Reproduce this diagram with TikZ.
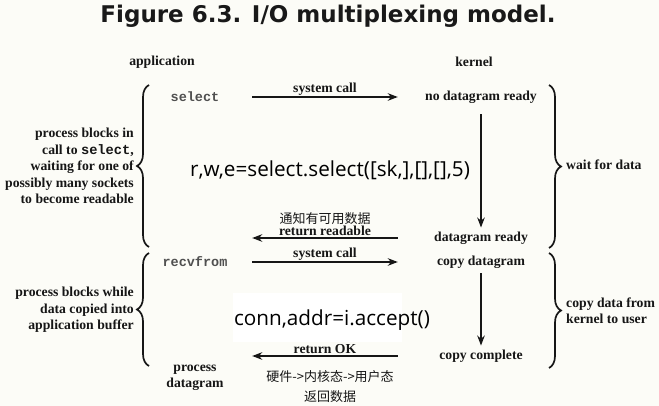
\documentclass[tikz,border=0pt]{standalone}
\usepackage{fontspec}
\setmainfont{Liberation Serif}
\setmonofont{Liberation Mono}
\newfontfamily\titlefont{DejaVu Sans}
\newfontfamily\pyfont{Open Sans}
\newfontfamily\cjk{Noto Sans CJK SC}
\usepackage{tikz}
\usetikzlibrary{positioning,calc,arrows.meta,decorations.pathreplacing}

\definecolor{paper}{RGB}{252,252,247}
\definecolor{ink}{RGB}{22,22,22}

\tikzset{
  lbl/.style={font=\bfseries\fontsize{13.7}{15}\selectfont,text=ink,inner sep=1pt},
  kern/.style={lbl,minimum width=166pt},
  call/.style={lbl,minimum width=114pt,font=\ttfamily\bfseries\fontsize{13.5}{15}\selectfont,text=ink!75},
  side/.style={lbl,align=right,font=\bfseries\fontsize{13.7}{16.5}\selectfont},
  note/.style={lbl,align=left,font=\bfseries\fontsize{13.7}{15.5}\selectfont,anchor=west},
  cjklbl/.style={font=\cjk\fontsize{13}{15}\selectfont,text=ink,inner sep=1pt},
  py/.style={font=\pyfont\fontsize{20.7}{24}\selectfont,text=black,inner sep=1pt},
  arr/.style={-{Stealth[length=10pt,width=7.5pt]},line width=1.8pt,draw=ink},
  brc/.style={decorate,decoration={brace,amplitude=12pt},line width=1.7pt,draw=ink}
}

\begin{document}
\begin{tikzpicture}[x=1pt,y=-1pt]
		\fill[paper] (0,0) rectangle (659,406);
		\useasboundingbox (0,0) rectangle (659,406);
		\fill[white] (233,293) rectangle (402,342);

		\node[font=\titlefont\bfseries\fontsize{23}{26}\selectfont,text=black!90] (title) at (328,16) {Figure 6.3. I/O multiplexing model.};
		\node[lbl] (app) at (162,62) {application};
		\node[lbl] (kernel) at (474,62) {kernel};

		% first phase: select
		\node[call] (sel) at (195,97) {select};
		\node[kern] (nodg) at (481,97) {no datagram ready};
		\draw[arr] (sel.east)--(nodg.west) node[midway,above,lbl] {system call};
		\node[kern] (dgr) at (481,238) {datagram ready};
		\draw[arr,shorten <=10pt,shorten >=3pt] (nodg.south)--(dgr.north);
		\coordinate (selret) at (sel.east |- dgr.west);
		\draw[arr] (dgr.west)--(selret) node[midway,above,lbl] (rr) {return readable};
		\node[cjklbl,above=-1pt of rr] (tz) {通知有可用数据};
		\node[py] (selcode) at (330,170) {r,w,e=select.select([sk,],[],[],5)};

		% second phase: recvfrom
		\node[call] (recv) at (195,262) {recvfrom};
		\node[kern] (cpd) at (481,262) {copy datagram};
		\draw[arr] (recv.east)--(cpd.west) node[midway,above,lbl] {system call};
		\node[kern] (cpc) at (481,356) {copy complete};
		\draw[arr,shorten <=4pt,shorten >=3pt] (cpd.south)--(cpc.north);
		\coordinate (recvret) at (recv.east |- cpc.west);
		\draw[arr] (cpc.west)--(recvret) node[midway,above,lbl] {return OK};
		\node[py] (acc) at (332,320) {conn,addr=i.accept()};
		\node[lbl,align=center,font=\bfseries\fontsize{13.7}{16.5}\selectfont] (proc) at (195,378) {process\\datagram};
		\node[cjklbl] (hw) at (330,377) {硬件->内核态->用户态};
		\node[cjklbl,below=5pt of hw] (ret) {返回数据};

		% braces
		\draw[brc] (149,247)--(149,85);
		\draw[brc] (149,366)--(149,253);
		\draw[brc] (549,85)--(549,248);
		\draw[brc] (549,253)--(549,368);
		\node[side,anchor=east] (blk1) at (135,166) {process blocks in\\call to \texttt{select},\\waiting for one of\\possibly many sockets\\to become readable};
		\node[side,anchor=east] (blk2) at (135,310) {process blocks while\\data copied into\\application buffer};
		\node[note] (wait) at (565,165) {wait for data};
		\node[note] (copy) at (565,311) {copy data from\\kernel to user};
	\end{tikzpicture}
\end{document}
